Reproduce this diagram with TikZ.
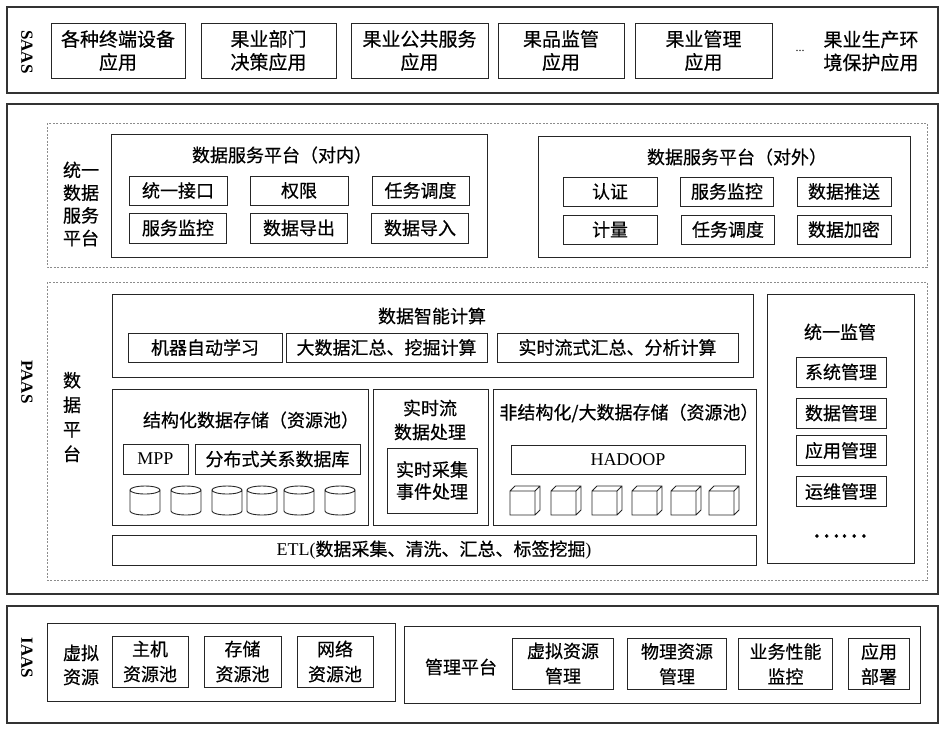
\documentclass[tikz,border=0pt]{standalone}
\usepackage{fontspec}
\setmainfont{Liberation Serif}
\newfontfamily\cjk[FakeBold=0.5]{Noto Sans CJK SC}
\usepackage{tikz}

\begin{document}
\begin{tikzpicture}[x=1pt,y=-1pt,
    every node/.style={inner sep=0pt,align=center,font=\cjk\fontsize{18}{23}\selectfont},
    frame/.style={draw=black!80,line width=1.2pt},
    dframe/.style={draw=black!45,line width=0.7pt,dash pattern=on 2pt off 1.5pt},
    box/.style={draw=black!85,line width=1pt},
    layer/.style={rotate=-90,font=\rmfamily\bfseries\fontsize{17}{17}\selectfont}]
    \useasboundingbox (0,0) rectangle (945,729);

    % SAAS
    \draw[frame] (7,7) rectangle (938,93);
    \node[layer] (saas) at (27,52) {SAAS};
    \node[box,minimum width=134,minimum height=55,font=\cjk\fontsize{19}{23}\selectfont] (s1) at (118,50.5) {各种终端设备\\应用};
    \node[box,minimum width=135,minimum height=55,font=\cjk\fontsize{19}{23}\selectfont] (s2) at (268.5,50.5) {果业部门\\决策应用};
    \node[box,minimum width=137,minimum height=55,font=\cjk\fontsize{19}{23}\selectfont] (s3) at (419.5,50.5) {果业公共服务\\应用};
    \node[box,minimum width=126,minimum height=55,font=\cjk\fontsize{19}{23}\selectfont] (s4) at (561,50.5) {果品监管\\应用};
    \node[box,minimum width=137,minimum height=55,font=\cjk\fontsize{19}{23}\selectfont] (s5) at (703.5,50.5) {果业管理\\应用};
    \node[font=\rmfamily\fontsize{12}{12}\selectfont] (sdots) at (800,51) {...};
    \node[font=\cjk\fontsize{19}{23}\selectfont] (s6) at (871,51) {果业生产环\\境保护应用};

    % PAAS
    \draw[frame] (7,104) rectangle (938,594);
    \node[layer] (paas) at (27,382) {PAAS};

    % unified data service platform
    \draw[dframe] (47,123) rectangle (927,267);
    \node[font=\cjk\fontsize{18}{22.7}\selectfont] (uds) at (81,204) {统一\\数据\\服务\\平台};
    \draw[box] (111,134) rectangle (487,257);
    \node (inT) at (282,155) {数据服务平台（对内）};
    \node[box,minimum width=98,minimum height=29] (b1) at (178,190.5) {统一接口};
    \node[box,minimum width=98,minimum height=29] (b2) at (299,190.5) {权限};
    \node[box,minimum width=97,minimum height=29] (b3) at (420.5,190.5) {任务调度};
    \node[box,minimum width=97,minimum height=30] (b4) at (178,228) {服务监控};
    \node[box,minimum width=97,minimum height=30] (b5) at (299,228) {数据导出};
    \node[box,minimum width=97,minimum height=30] (b6) at (420,228) {数据导入};

    \draw[box] (538,136) rectangle (910,257);
    \node (outT) at (737,157) {数据服务平台（对外）};
    \node[box,minimum width=94,minimum height=29] (c1) at (610,191.5) {认证};
    \node[box,minimum width=93,minimum height=29] (c2) at (727,191.5) {服务监控};
    \node[box,minimum width=94,minimum height=29] (c3) at (844,191.5) {数据推送};
    \node[box,minimum width=94,minimum height=29] (c4) at (610,229.5) {计量};
    \node[box,minimum width=93,minimum height=29] (c5) at (728,229.5) {任务调度};
    \node[box,minimum width=94,minimum height=29] (c6) at (844,229.5) {数据加密};

    % data platform
    \draw[dframe] (47,282) rectangle (927,580);
    \node[font=\cjk\fontsize{18}{24.5}\selectfont] (dp) at (72,417) {数\\据\\平\\台};

    \draw[box] (112,294) rectangle (753,377);
    \node (calc) at (432,316) {数据智能计算};
    \node[box,minimum width=154,minimum height=29] (d1) at (205,347.5) {机器自动学习};
    \node[box,minimum width=201,minimum height=29] (d2) at (386.5,347.5) {大数据汇总、挖掘计算};
    \node[box,minimum width=241,minimum height=29] (d3) at (617.5,347.5) {实时流式汇总、分析计算};

    \draw[box] (767,294) rectangle (914,563);
    \node (mon) at (840,332) {统一监管};
    \node[box,minimum width=90,minimum height=30] (e1) at (841,372) {系统管理};
    \node[box,minimum width=90,minimum height=30] (e2) at (841,413) {数据管理};
    \node[box,minimum width=90,minimum height=30] (e3) at (841,450.5) {应用管理};
    \node[box,minimum width=90,minimum height=30] (e4) at (841,491.5) {运维管理};
    \node[font=\cjk\fontsize{26}{26}\selectfont] (edots) at (840,536) {……};

    \draw[box] (112,389) rectangle (368,525);
    \node (stru) at (251,420) {结构化数据存储（资源池）};
    \node[box,minimum width=65,minimum height=30,font=\rmfamily\fontsize{18}{20}\selectfont] (mpp) at (155.5,459) {MPP};
    \node[box,minimum width=165,minimum height=30] (rdb) at (277.5,459) {分布式关系数据库};
    \foreach \x in {145,186,227,262,299,340}
        \draw[line width=0.9pt,draw=black!85] (\x-15,490) -- (\x-15,511)
            arc[start angle=180,end angle=360,x radius=15pt,y radius=4pt] -- (\x+15,490)
            (\x,490) ellipse[x radius=15pt,y radius=4pt];

    \draw[box] (373,389) rectangle (488,525);
    \node[font=\cjk\fontsize{18}{24}\selectfont] (rt) at (430,420) {实时流\\数据处理};
    \node[box,minimum width=90,minimum height=65,font=\cjk\fontsize{18}{22}\selectfont] (rte) at (432,480.5) {实时采集\\事件处理};

    \draw[box] (493,389) rectangle (756,525);
    \node (unst) at (629,413) {非结构化/大数据存储（资源池）};
    \node[box,minimum width=234,minimum height=29,font=\rmfamily\fontsize{18}{20}\selectfont] (hd) at (628,459.5) {HADOOP};
    \foreach \x in {510,551,592,632,671,709}
        \draw[line width=0.9pt,draw=black!85] (\x,491) rectangle ++(25,24)
            (\x,491) -- ++(5,-5) -- ++(25,0) -- ++(0,24) -- ++(-5,5)
            (\x+25,491) -- ++(5,-5);

    \node[box,minimum width=644,minimum height=30] (etl) at (434,550) {{\rmfamily ETL(}数据采集、清洗、汇总、标签挖掘{\rmfamily )}};

    % IAAS
    \draw[frame] (7,606) rectangle (938,723);
    \node[layer] (iaas) at (27,658) {IAAS};

    \draw[box] (47,623) rectangle (395,701);
    \node[font=\cjk\fontsize{18}{24}\selectfont] (vr) at (81,665) {虚拟\\资源};
    \node[box,minimum width=76,minimum height=51,font=\cjk\fontsize{18}{25}\selectfont] (f1) at (150,661.5) {主机\\资源池};
    \node[box,minimum width=77,minimum height=51,font=\cjk\fontsize{18}{25}\selectfont] (f2) at (242.5,661.5) {存储\\资源池};
    \node[box,minimum width=76,minimum height=51,font=\cjk\fontsize{18}{25}\selectfont] (f3) at (335,661.5) {网络\\资源池};

    \draw[box] (404,626) rectangle (920,703);
    \node (mp) at (461,667) {管理平台};
    \node[box,minimum width=101,minimum height=51,font=\cjk\fontsize{18}{25}\selectfont] (g1) at (563,663.5) {虚拟资源\\管理};
    \node[box,minimum width=99,minimum height=51,font=\cjk\fontsize{18}{25}\selectfont] (g2) at (677,664) {物理资源\\管理};
    \node[box,minimum width=94,minimum height=51,font=\cjk\fontsize{18}{25}\selectfont] (g3) at (785.5,664) {业务性能\\监控};
    \node[box,minimum width=61,minimum height=51,font=\cjk\fontsize{18}{25}\selectfont] (g4) at (879,664) {应用\\部署};
\end{tikzpicture}
\end{document}
